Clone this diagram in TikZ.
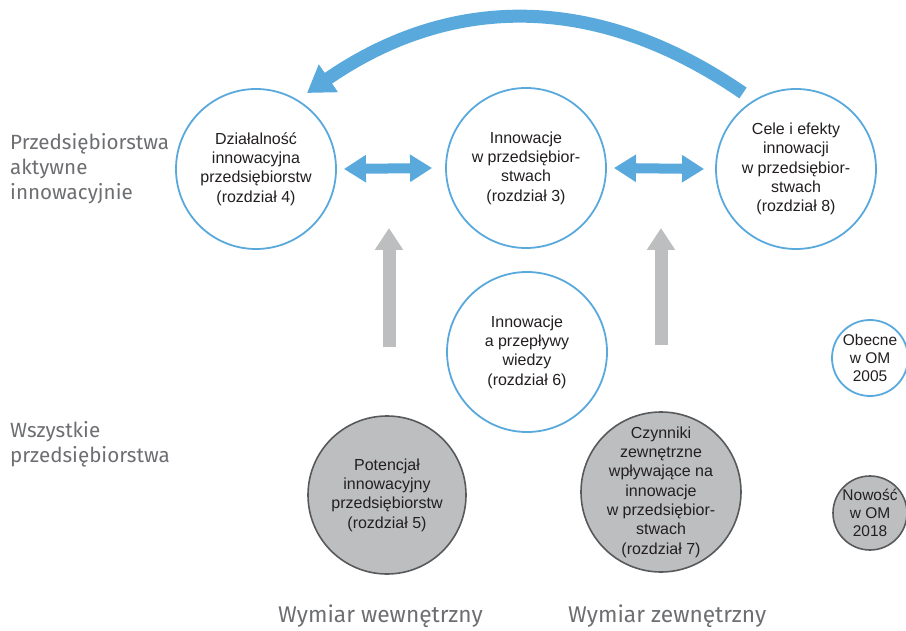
\documentclass[tikz,border=0pt]{standalone}
\usepackage{fontspec}
\setmainfont{Liberation Sans}
\newfontfamily\labfont{Fira Sans}
\usetikzlibrary{arrows.meta}
\definecolor{cblue}{HTML}{5AA9DD}
\definecolor{cgray}{HTML}{BCBEC0}
\definecolor{cdark}{HTML}{58595B}
\definecolor{ctext}{HTML}{231F20}
\definecolor{clab}{HTML}{6D6E71}
\tikzset{
  bluecirc/.style={circle, draw=cblue, line width=1.8pt, fill=white, minimum size=#1, inner sep=0pt},
  graycirc/.style={circle, draw=cdark, line width=1.6pt, fill=cgray, minimum size=#1, inner sep=0pt},
  ctxt/.style={align=center, text=ctext, inner sep=0pt, font=\fontsize{16}{19.3}\selectfont},
  stxt/.style={align=center, text=ctext, inner sep=0pt, font=\fontsize{15.5}{18}\selectfont},
  sidelab/.style={align=left, text=clab, inner sep=0pt, anchor=base west, font=\labfont\fontsize{20.6}{25}\selectfont},
  bottomlab/.style={text=clab, inner sep=0pt, anchor=base west, font=\labfont\fontsize{22.7}{26}\selectfont},
  dblarrow/.style={draw=cblue, line width=10pt, {Triangle[width=26pt,length=22pt]}-{Triangle[width=26pt,length=22pt]}},
  uparrow/.style={draw=cgray, line width=13pt, -{Triangle[width=27pt,length=22pt]}},
  bigarrow/.style={draw=cblue, line width=13pt, -{Triangle[width=32pt,length=26pt]}},
}
\begin{document}
\begin{tikzpicture}[x=1pt,y=-1pt]
\useasboundingbox (0,0) rectangle (906,631);

% blue circles
\node[bluecirc=160pt] (c4) at (256,169) {};
\node[bluecirc=160pt] (c3) at (526,168) {};
\node[bluecirc=160pt] (c8) at (796,169) {};
\node[bluecirc=160pt] (c6) at (527,352) {};
\node[bluecirc=76pt] (om05) at (870,358) {};

% gray circles
\node[graycirc=158pt] (c5) at (387,495) {};
\node[graycirc=160pt] (c7) at (661,492) {};
\node[graycirc=74pt] (om18) at (870,513) {};

% texts
\node[ctxt] (t4) at (c4) {Działalność\\innowacyjna\\przedsiębiorstw\\(rozdział 4)};
\node[ctxt] (t3) at (c3) {Innowacje\\w przedsiębior-\\stwach\\(rozdział 3)};
\node[ctxt] (t8) at (c8) {Cele i efekty\\innowacji\\w przedsiębior-\\stwach\\(rozdział 8)};
\node[ctxt] (t6) at (c6) {Innowacje\\a przepływy\\wiedzy\\(rozdział 6)};
\node[ctxt] (t5) at (c5) {Potencjał\\innowacyjny\\przedsiębiorstw\\(rozdział 5)};
\node[ctxt] (t7) at (c7) {Czynniki\\zewnętrzne\\wpływające na\\innowacje\\w przedsiębior-\\stwach\\(rozdział 7)};
\node[stxt] (t05) at (om05) {Obecne\\w OM\\2005};
\node[stxt] (t18) at (om18) {Nowość\\w OM\\2018};

% side labels (base anchor = last line baseline)
\node[sidelab] (l1) at (10,200) {Przedsiębiorstwa\\aktywne\\innowacyjnie};
\node[sidelab] (l2) at (10,462) {Wszystkie\\przedsiębiorstwa};
\node[bottomlab] (b1) at (278,622) {Wymiar wewnętrzny};
\node[bottomlab] (b2) at (568,622) {Wymiar zewnętrzny};

% double arrows
\path[dblarrow] ([xshift=7pt]c4.east) -- ([xshift=-13pt]c3.west);
\path[dblarrow] ([xshift=7pt]c3.east) -- ([xshift=-11pt]c8.west);

% gray up arrows
\coordinate (g1s) at (389,347);
\coordinate (g1e) at (389,228);
\coordinate (g2s) at (661,345);
\coordinate (g2e) at (661,228);
\path[uparrow] (g1s) -- (g1e);
\path[uparrow] (g2s) -- (g2e);

% big curved arrow
\coordinate (bs) at (743,93);
\coordinate (be) at (307,93);
\path[bigarrow] (bs) .. controls (598,-7) and (452,-7) .. (be);
\end{tikzpicture}
\end{document}
